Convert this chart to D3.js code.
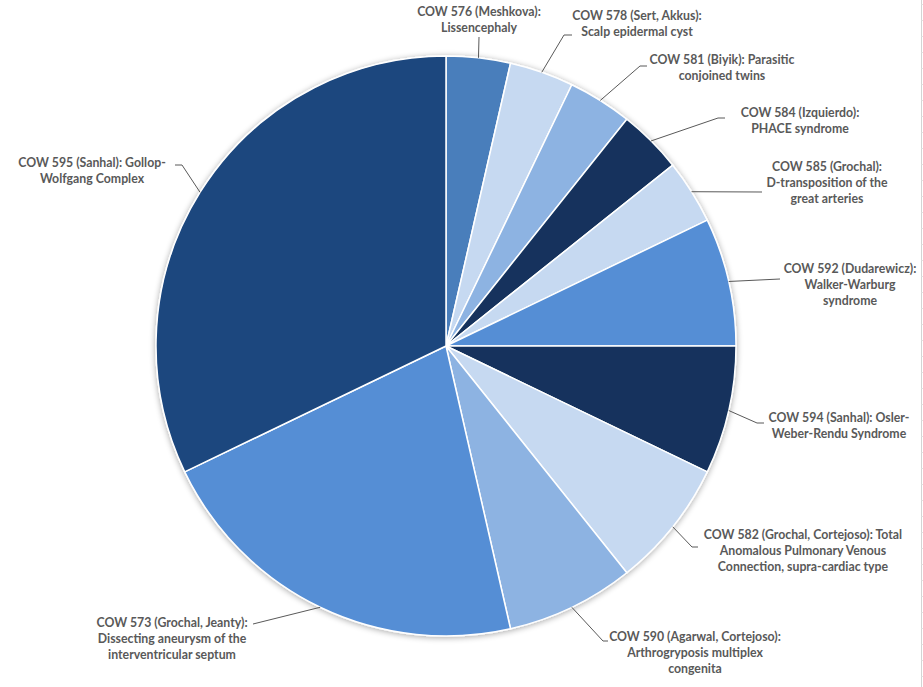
<!DOCTYPE html>
<html><head><meta charset="utf-8">
<script src="https://cdn.jsdelivr.net/npm/d3@7"></script>
<style>body{margin:0;background:#fff}svg{display:block}</style>
</head><body>
<script>
const categories = [
  "COW 576 (Meshkova): Lissencephaly",
  "COW 578 (Sert, Akkus): Scalp epidermal cyst",
  "COW 581 (Biyik): Parasitic conjoined twins",
  "COW 584 (Izquierdo): PHACE syndrome",
  "COW 585 (Grochal): D-transposition of the great arteries",
  "COW 592 (Dudarewicz): Walker-Warburg syndrome",
  "COW 594 (Sanhal): Osler-Weber-Rendu Syndrome",
  "COW 582 (Grochal, Cortejoso): Total Anomalous Pulmonary Venous Connection, supra-cardiac type",
  "COW 590 (Agarwal, Cortejoso): Arthrogryposis multiplex congenita",
  "COW 573 (Grochal, Jeanty): Dissecting aneurysm of the interventricular septum",
  "COW 595 (Sanhal): Gollop-Wolfgang Complex"
];
const values = [1, 1, 1, 1, 1, 2, 2, 2, 2, 6, 9];
const labelLines = [
  ["COW 576 (Meshkova):", "Lissencephaly"],
  ["COW 578 (Sert, Akkus):", "Scalp epidermal cyst"],
  ["COW 581 (Biyik): Parasitic", "conjoined twins"],
  ["COW 584 (Izquierdo):", "PHACE syndrome"],
  ["COW 585 (Grochal):", "D-transposition of the", "great arteries"],
  ["COW 592 (Dudarewicz):", "Walker-Warburg", "syndrome"],
  ["COW 594 (Sanhal): Osler-", "Weber-Rendu Syndrome"],
  ["COW 582 (Grochal, Cortejoso): Total", "Anomalous Pulmonary Venous", "Connection, supra-cardiac type"],
  ["COW 590 (Agarwal, Cortejoso):", "Arthrogryposis multiplex", "congenita"],
  ["COW 573 (Grochal, Jeanty):", "Dissecting aneurysm of the", "interventricular septum"],
  ["COW 595 (Sanhal): Gollop-", "Wolfgang Complex"]
];
const colors = ["#4a7ebb","#c6d9f1","#8db3e2","#12335d","#c6d9f1","#558ed5","#12335d","#c6d9f1","#8db3e2","#558ed5","#1c477e"];

// label layout: text centre x, first line centre y, elbow point, end point of leader (near text)
const layout = [
  {tx:479, ty:12, elbow:null, end:[479,37]},
  {tx:637, ty:16, elbow:[564,35], end:[572,35]},
  {tx:722, ty:60, elbow:[640,66], end:[647,66]},
  {tx:800, ty:113, elbow:[718,118], end:[725,118]},
  {tx:827, ty:167, elbow:null, end:[762,192]},
  {tx:850, ty:269, elbow:null, end:[780,279]},
  {tx:839, ty:418, elbow:[757,423], end:[764,423]},
  {tx:803, ty:535, elbow:[692,547], end:[698,547]},
  {tx:695, ty:637, elbow:[603,641], end:[608,641]},
  {tx:172, ty:623, elbow:null, end:[253,624]},
  {tx:92, ty:163, elbow:[182,165], end:[175,165], angle:302}
];

const W = 923, H = 687, cx = 446, cy = 346, R = 290;
const svg = d3.select("body").append("svg").attr("width", W).attr("height", H);

const defs = svg.append("defs");
const f = defs.append("filter").attr("id","sh").attr("x","-10%").attr("y","-10%").attr("width","120%").attr("height","120%");
f.append("feGaussianBlur").attr("in","SourceAlpha").attr("stdDeviation",3);
f.append("feOffset").attr("dy",1).attr("result","b");
f.append("feComponentTransfer").append("feFuncA").attr("type","linear").attr("slope",0.35);
const m = f.append("feMerge"); m.append("feMergeNode"); m.append("feMergeNode").attr("in","SourceGraphic");

// spreadsheet gridline at right edge
const gx = 921.5;
svg.append("line").attr("x1",gx).attr("x2",gx).attr("y1",0).attr("y2",H).attr("stroke","#d4d4d4");
svg.append("g").selectAll("line").data(d3.range(4, H, 16)).join("line")
  .attr("x1",gx).attr("x2",W).attr("y1",d=>d+0.5).attr("y2",d=>d+0.5).attr("stroke","#e2e2e2");

const pie = d3.pie().sort(null).value(d => d)(values);
const arc = d3.arc().innerRadius(0).outerRadius(R);
const g = svg.append("g").attr("transform", `translate(${cx},${cy})`);
const pg = g.append("g").attr("filter","url(#sh)");
pg.selectAll("path").data(pie).join("path")
  .attr("d", arc).attr("fill", (d,i) => colors[i])
  .attr("stroke", "#fff").attr("stroke-width", 1.5).attr("stroke-linejoin","round");

// leaders
const lg = svg.append("g");
pie.forEach((d, i) => {
  const L = layout[i];
  const a = L.angle !== undefined ? L.angle * Math.PI / 180 : (d.startAngle + d.endAngle) / 2;
  const p0 = [cx + R * Math.sin(a), cy - R * Math.cos(a)];
  const pts = [p0];
  if (L.elbow) pts.push(L.elbow);
  pts.push(L.end);
  lg.append("path").attr("d", d3.line()(pts)).attr("fill","none")
    .attr("stroke","#595959").attr("stroke-width",1);
});

// labels
const tg = svg.append("g").attr("font-family","Lato, 'Open Sans', sans-serif")
  .attr("font-weight","bold").attr("font-size","12.3px").attr("fill","#595959")
  .attr("text-anchor","middle");
labelLines.forEach((lines, i) => {
  const L = layout[i];
  const t = tg.append("text");
  lines.forEach((s, k) => {
    t.append("tspan").attr("x", L.tx).attr("y", L.ty + k * 16).attr("dy","0.35em").text(s);
  });
});
</script>
</body></html>
